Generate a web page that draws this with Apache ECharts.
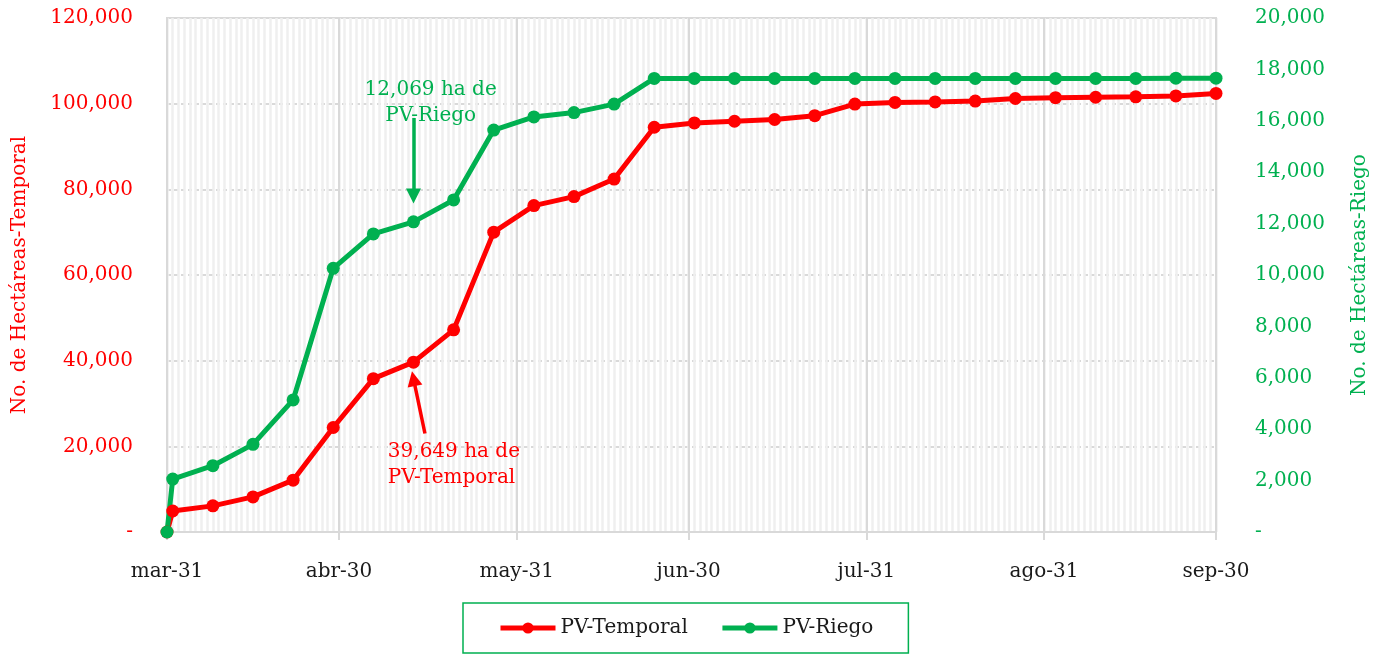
<!DOCTYPE html>
<html>
<head>
<meta charset="utf-8">
<script src="https://cdn.jsdelivr.net/npm/echarts@6/dist/echarts.min.js"></script>
<style>
html,body{margin:0;padding:0;background:#fff;}
#chart{width:1381px;height:656px;}
</style>
</head>
<body>
<div id="chart"></div>
<script>
// ---------- data ----------
var dates = ['2021-03-31','2021-04-01','2021-04-08','2021-04-15','2021-04-22','2021-04-29',
  '2021-05-06','2021-05-13','2021-05-20','2021-05-27','2021-06-03','2021-06-10','2021-06-17','2021-06-24',
  '2021-07-01','2021-07-08','2021-07-15','2021-07-22','2021-07-29','2021-08-05','2021-08-12','2021-08-19',
  '2021-08-26','2021-09-02','2021-09-09','2021-09-16','2021-09-23','2021-09-30'];
var temporal = [0, 4900, 6100, 8200, 12100, 24400, 35800, 39649, 47200, 70000, 76200, 78300, 82400, 94500,
  95500, 95900, 96300, 97200, 99900, 100300, 100400, 100600, 101200, 101400, 101500, 101600, 101800, 102400];
var riego = [0, 2060, 2580, 3410, 5140, 10260, 11600, 12069, 12920, 15640, 16150, 16320, 16650, 17650,
  17650, 17650, 17650, 17650, 17650, 17650, 17650, 17650, 17650, 17650, 17650, 17650, 17660, 17660];
var monthEnds = ['2021-03-31','2021-04-30','2021-05-31','2021-06-30','2021-07-31','2021-08-31','2021-09-30'];
var monthNames = ['ene','feb','mar','abr','may','jun','jul','ago','sep','oct','nov','dic'];
var startDay = '2021-03-31', endDay = '2021-09-30';
var seriesNames = ['PV-Temporal', 'PV-Riego'];
var noteRiego = '12,069 ha de\nPV-Riego';
var noteTemporal = '39,649 ha de\nPV-Temporal';

// ---------- daily category axis ----------
function pad(n){return (n<10?'0':'')+n;}
var days = [];
(function(){
  var d = new Date(startDay + 'T00:00:00Z'), e = new Date(endDay + 'T00:00:00Z');
  while (d <= e) {
    days.push(d.getUTCFullYear() + '-' + pad(d.getUTCMonth()+1) + '-' + pad(d.getUTCDate()));
    d = new Date(d.getTime() + 86400000);
  }
})();
function isMonthEnd(v){ return monthEnds.indexOf(v) >= 0; }
function fmtDate(v){ var p = v.split('-'); return monthNames[+p[1]-1] + '-' + p[2]; }
function fmtNum(v){ return v === 0 ? '-' : String(v).replace(/\B(?=(\d{3})+(?!\d))/g, ','); }
function pairs(vals){ return vals.map(function(v,i){ return [dates[i], v]; }); }

var RED = '#FF0000', GREEN = '#00B050', FONT = 'DejaVu Serif', GRID = '#d9d9d9';

var chart = echarts.init(document.getElementById('chart'), null, {renderer:'canvas'});
chart.setOption({
  animation: false,
  textStyle: {fontFamily: FONT},
  grid: {left:167, right:165, top:18, bottom:124, show:true, borderColor:GRID, borderWidth:2, backgroundColor:'transparent'},
  legend: {
    data: seriesNames,
    left: 463, top: 603,
    padding: [15, 35], itemGap: 32, itemWidth: 55, itemHeight: 14,
    borderColor: GREEN, borderWidth: 1.5,
    lineStyle: {width: 5},
    textStyle: {fontFamily: FONT, fontSize: 20, color: '#1a1a1a'}
  },
  xAxis: [{
    type: 'category', data: days, boundaryGap: false,
    axisLine: {lineStyle: {color: GRID, width: 2}},
    axisTick: {show: true, length: 8, interval: function(i, v){ return isMonthEnd(days[i]); }, lineStyle: {color: GRID, width: 2}},
    axisLabel: {interval: function(i, v){ return isMonthEnd(days[i]); }, formatter: function(v){ return fmtDate(v); },
      color: '#1a1a1a', fontSize: 20, fontFamily: FONT, margin: 30},
    splitLine: {show: true, interval: 0, lineStyle: {color: '#efefef', width: 2.5}}
  }, {
    type: 'category', data: days, boundaryGap: false, position: 'bottom',
    axisLine: {show: false}, axisTick: {show: false}, axisLabel: {show: false},
    splitLine: {show: true, interval: function(i, v){ return isMonthEnd(days[i]); }, lineStyle: {color: GRID, width: 2}}
  }],
  yAxis: [{
    type: 'value', min: 0, max: 120000, interval: 20000, position: 'left',
    name: 'No. de Hectáreas-Temporal', nameLocation: 'middle', nameGap: 137,
    nameTextStyle: {color: RED, fontSize: 20, fontFamily: FONT},
    axisLine: {show: false}, axisTick: {show: false},
    axisLabel: {color: RED, fontSize: 20, fontFamily: FONT, margin: 34, formatter: fmtNum},
    splitLine: {show: true, lineStyle: {color: GRID, width: 2, type: [4, 3]}}
  }, {
    type: 'value', min: 0, max: 20000, interval: 2000, position: 'right',
    name: 'No. de Hectáreas-Riego', nameLocation: 'middle', nameGap: 134,
    nameTextStyle: {color: GREEN, fontSize: 20, fontFamily: FONT},
    axisLine: {show: false}, axisTick: {show: false},
    axisLabel: {color: GREEN, fontSize: 20, fontFamily: FONT, margin: 39, formatter: fmtNum},
    splitLine: {show: false}
  }],
  series: [{
    name: seriesNames[0], type: 'line', xAxisIndex: 0, yAxisIndex: 0,
    data: pairs(temporal), symbol: 'circle', symbolSize: 13, showSymbol: true, showAllSymbol: true,
    lineStyle: {color: RED, width: 5}, itemStyle: {color: RED},
    markLine: {
      silent: true, symbol: ['none', 'triangle'], symbolSize: [15, 15],
      lineStyle: {color: RED, width: 3.5, type: 'solid'}, label: {show: false},
      data: [[{coord: ['2021-05-15', 23000]}, {coord: ['2021-05-13', 35800]}]]
    },
    markPoint: {
      silent: true, symbol: 'circle', symbolSize: 0,
      label: {show: true, position: 'inside', align: 'left', color: RED, fontSize: 20, fontFamily: FONT, lineHeight: 26,
        offset: [3, 0], formatter: function(){ return noteTemporal; }},
      data: [{coord: ['2021-05-08', 15800]}]
    }
  }, {
    name: seriesNames[1], type: 'line', xAxisIndex: 0, yAxisIndex: 1,
    data: pairs(riego), symbol: 'circle', symbolSize: 13, showSymbol: true, showAllSymbol: true,
    lineStyle: {color: GREEN, width: 5}, itemStyle: {color: GREEN},
    markLine: {
      silent: true, symbol: ['none', 'triangle'], symbolSize: [15, 15],
      lineStyle: {color: GREEN, width: 3.5, type: 'solid'}, label: {show: false},
      data: [[{coord: ['2021-05-13', 16110]}, {coord: ['2021-05-13', 13070]}]]
    },
    markPoint: {
      silent: true, symbol: 'circle', symbolSize: 0,
      label: {show: true, position: 'inside', align: 'center', color: GREEN, fontSize: 20, fontFamily: FONT, lineHeight: 26,
        formatter: function(){ return noteRiego; }},
      data: [{coord: ['2021-05-16', 16700]}]
    }
  }]
});
</script>
</body>
</html>
